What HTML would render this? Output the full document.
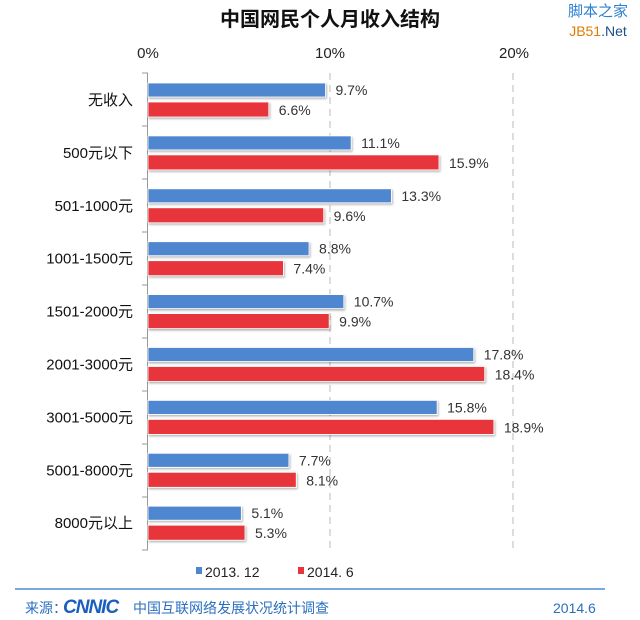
<!DOCTYPE html>
<html><head><meta charset="utf-8"><style>
body{margin:0;background:#fff;}
svg text{font-family:"Liberation Sans","Noto Sans CJK SC",sans-serif;}
</style></head><body>
<svg width="640" height="615" xmlns="http://www.w3.org/2000/svg">
<defs><filter id="s" x="-5%" y="-20%" width="110%" height="160%"><feDropShadow dx="1" dy="1.5" stdDeviation="1" flood-color="#000" flood-opacity="0.3"/></filter></defs>
<text x="330" y="26" font-size="20" font-weight="bold" text-anchor="middle" fill="#111">中国网民个人月收入结构</text>
<text x="598" y="16" font-size="15" text-anchor="middle" fill="#2a7fd0">脚本之家</text>
<text x="598" y="36" font-size="14" text-anchor="middle" fill="#e07b00">JB51<tspan fill="#1a4f8a">.Net</tspan></text>
<g font-size="15" fill="#222" text-anchor="middle">
<text x="148" y="58">0%</text><text x="330" y="58">10%</text><text x="514" y="58">20%</text></g>
<g stroke="#bbb" stroke-dasharray="7,5" stroke-width="1"><line x1="330" y1="73" x2="330" y2="550"/><line x1="513" y1="73" x2="513" y2="550"/></g>
<line x1="147.5" y1="73" x2="147.5" y2="550" stroke="#999"/>
<g id="bars"></g>
<g font-size="14" fill="#222">
<rect x="196" y="567" width="6" height="7" fill="#4f86d0"/><text x="205" y="577">2013. 12</text>
<rect x="298" y="567" width="6" height="7" fill="#e8343b"/><text x="307" y="577">2014. 6</text></g>
<line x1="15" y1="589" x2="605" y2="589" stroke="#4a8fd0" stroke-width="1.5"/>
<text x="25" y="613" font-size="14" fill="#2a6fc0">来源：</text>
<text x="63" y="613" font-size="19" font-weight="bold" fill="#1a5fc0" font-style="italic" letter-spacing="-1">CNNIC</text>
<text x="133" y="613" font-size="14" fill="#2a6fc0">中国互联网络发展状况统计调查</text>
<text x="553" y="613" font-size="14" fill="#2a6fc0">2014.6</text>
</svg>
<script>
var d=[["无收入",9.7,6.6],["500元以下",11.1,15.9],["501-1000元",13.3,9.6],["1001-1500元",8.8,7.4],["1501-2000元",10.7,9.9],["2001-3000元",17.8,18.4],["3001-5000元",15.8,18.9],["5001-8000元",7.7,8.1],["8000元以上",5.1,5.3]];
var g=document.getElementById('bars'),h='',k=18.3;
d.forEach(function(r,i){var y=83+i*52.9;
h+='<line x1="142" y1="'+(73+i*53)+'" x2="148" y2="'+(73+i*53)+'" stroke="#999"/>';
h+='<rect x="148" y="'+y+'" width="'+r[1]*k+'" height="14" fill="#4f86d0" stroke="#fff" stroke-width="0.8" filter="url(#s)"/>';
h+='<rect x="148" y="'+(y+19)+'" width="'+r[2]*k+'" height="15" fill="#e8343b" stroke="#fff" stroke-width="0.8" filter="url(#s)"/>';
h+='<text x="'+(148+r[1]*k+10)+'" y="'+(y+12)+'" font-size="14" fill="#333">'+r[1].toFixed(1)+'%</text>';
h+='<text x="'+(148+r[2]*k+10)+'" y="'+(y+32)+'" font-size="14" fill="#333">'+r[2].toFixed(1)+'%</text>';
h+='<text x="133" y="'+(y+22)+'" font-size="15" fill="#111" text-anchor="end">'+r[0]+'</text>';});
h+='<line x1="142" y1="550" x2="148" y2="550" stroke="#999"/>';
g.innerHTML=h;
</script>
</body></html>
